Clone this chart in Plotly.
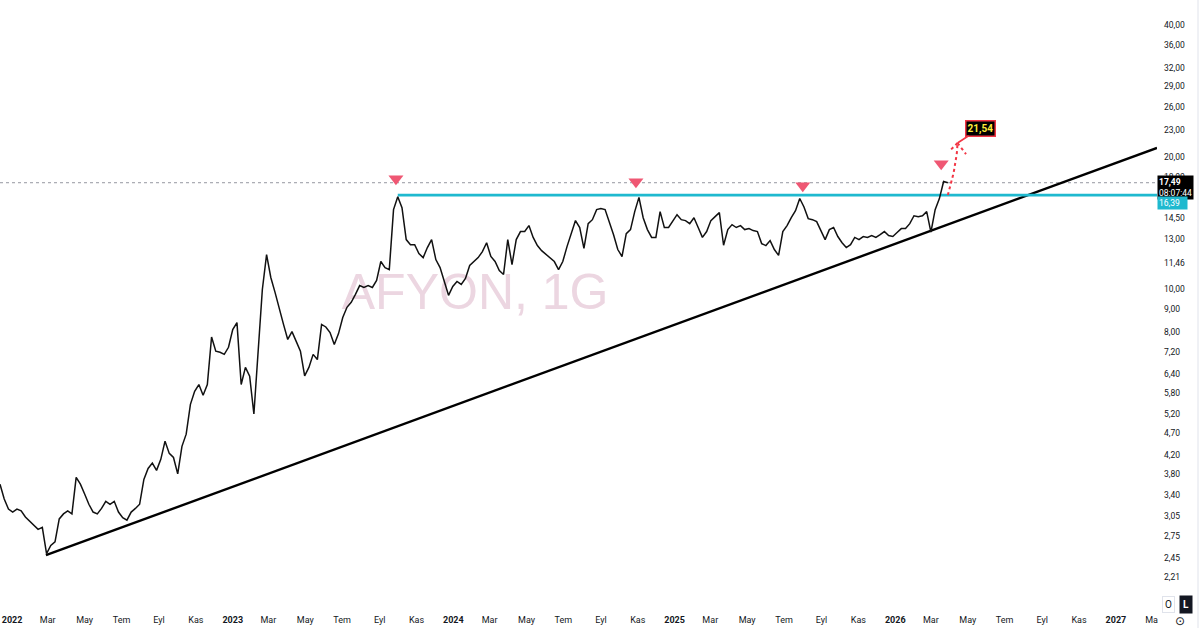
import numpy as np
import pandas as pd
import plotly.graph_objects as go

# ---------------- data ----------------
start_date = "2021-12-12"          # first weekly sample
close = [
    3.60, 3.33, 3.16, 3.11, 3.16, 3.13, 3.03, 2.97, 2.91, 2.84,
    2.87, 2.50, 2.61, 2.66, 3.00, 3.08, 3.13, 3.08, 3.73, 3.60,
    3.42, 3.24, 3.11, 3.08, 3.17, 3.29, 3.24, 3.29, 3.11, 3.02,
    2.98, 3.11, 3.17, 3.24, 3.69, 3.91, 4.02, 3.87, 4.10, 4.51,
    4.23, 4.14, 3.80, 4.39, 4.68, 5.47, 5.86, 6.07, 5.74, 6.07,
    7.79, 7.23, 7.19, 7.11, 7.38, 8.10, 8.40, 6.07, 6.64, 6.34,
    5.20, 7.30, 9.99, 12.00, 10.64, 9.84, 9.00, 8.32, 7.69, 8.01,
    7.61, 7.23, 6.35, 6.64, 7.11, 6.92, 8.32, 8.21, 7.97, 7.49,
    7.93, 8.63, 9.10, 9.34, 9.74, 10.20, 10.10, 10.20, 10.10, 10.48,
    11.57, 11.21, 11.09, 15.19, 16.25, 15.35, 12.98, 12.64, 12.64, 12.06,
    11.81, 12.45, 12.98, 11.69, 11.21, 10.48, 9.69, 10.15, 10.42, 10.26,
    10.59, 11.33, 11.57, 11.81, 12.19, 12.77, 11.88, 11.57, 11.03, 10.81,
    12.98, 11.39, 12.98, 13.54, 13.54, 13.97, 13.13, 12.58, 12.25, 12.00,
    11.81, 11.57, 11.09, 11.57, 12.51, 13.32, 14.34, 13.83, 12.40, 14.11,
    14.41, 15.19, 15.27, 15.19, 14.26, 13.32, 12.32, 11.88, 13.39, 13.68,
    15.03, 16.20, 14.56, 13.68, 13.13, 13.13, 15.03, 13.83, 13.83, 14.26,
    14.79, 14.41, 14.34, 14.11, 14.56, 13.83, 13.13, 13.54, 14.34, 14.64,
    14.95, 12.60, 13.68, 14.04, 13.83, 13.97, 13.68, 13.75, 13.61, 13.54,
    12.71, 12.58, 12.91, 12.32, 11.95, 13.54, 13.97, 14.56, 15.11, 16.10,
    15.40, 14.49, 14.41, 14.26, 13.54, 12.98, 13.68, 13.83, 13.19, 12.77,
    12.45, 12.64, 13.13, 12.98, 13.19, 13.13, 13.26, 13.13, 13.32, 13.54,
    13.26, 13.19, 13.47, 13.75, 13.75, 14.11, 14.71, 14.64, 14.71, 15.03,
    13.50, 15.19, 16.09, 17.60, 17.49,
]

trend_dates = ["2022-02-26", "2027-03-10"]
trend_prices = [2.48, 21.0]

resistance = 16.39
last_price = 17.49
last_time = "08:07:44"
target_price = 21.54

signal_dates = ["2023-09-28", "2024-10-29", "2025-08-01", "2026-03-18"]
signal_prices = [17.86, 17.58, 17.22, 19.32]

y_ticks = [2.21, 2.45, 2.75, 3.05, 3.40, 3.80, 4.20, 4.70, 5.20, 5.80, 6.40,
           7.20, 8.00, 9.00, 10.00, 11.46, 13.00, 14.50, 18.00, 20.00,
           23.00, 26.00, 29.00, 32.00, 36.00, 40.00, 45.00]

month_labels = {1: None, 3: "Mar", 5: "May", 7: "Tem", 9: "Eyl", 11: "Kas"}

x_range = ["2021-12-12", "2027-03-10"]
y_range = [1.961, 45.6]

# ---------------- helpers ----------------
PLOT_W, PLOT_H = 1157, 600
DAYS_PER_PX = 1.6543
LN_PER_PX = 1 / 190.7

dates = pd.date_range(start_date, periods=len(close), freq="7D")
last_date = dates[-1]


def shift(d, p, dx, dy):
    return (pd.Timestamp(d) + pd.Timedelta(days=dx * DAYS_PER_PX),
            p * np.exp(-dy * LN_PER_PX))


def comma(v):
    return f"{v:.2f}".replace(".", ",")


FONT = "Roboto, Liberation Sans, sans-serif"
TXT = "#131722"

fig = go.Figure()

# watermark (behind everything)
wm_d, wm_p = shift("2024-02-06", 9.86, 0, 4)
fig.add_trace(go.Scatter(x=[wm_d], y=[wm_p], mode="text", text=["AFYON, 1G"],
                         textfont=dict(size=50, color="#ecd6e1", family="Liberation Sans"),
                         textposition="middle center", hoverinfo="skip"))

# last price dotted line
fig.add_trace(go.Scatter(x=[x_range[0], x_range[1]], y=[last_price, last_price], mode="lines",
                         line=dict(color="#9598a1", width=1, dash="dot"), hoverinfo="skip"))

# trend line
fig.add_trace(go.Scatter(x=trend_dates, y=trend_prices, mode="lines",
                         line=dict(color="#000000", width=2.4), hoverinfo="skip"))

# resistance line
peak_date = dates[int(np.argmax(close[:120]))]
fig.add_trace(go.Scatter(x=[peak_date, x_range[1]], y=[resistance, resistance], mode="lines",
                         line=dict(color="#1fb9cf", width=2.6), hoverinfo="skip"))

# price series
fig.add_trace(go.Scatter(x=dates, y=close, mode="lines",
                         line=dict(color="#111111", width=1.5), hoverinfo="skip"))

# signal triangles
fig.add_trace(go.Scatter(x=signal_dates, y=signal_prices, mode="markers",
                         marker=dict(symbol="triangle-down", size=13, color="#ef5773"),
                         hoverinfo="skip"))

# projected dotted path to the target
target_date = last_date + pd.Timedelta(days=16)
t = np.linspace(0, 1, 14)
xf = 1 - (1 - t) ** 1.6
curve_x = [last_date + (target_date - last_date) * f for f in xf]
curve_y = np.exp(np.log(resistance) + t * (np.log(target_price) - np.log(resistance)))
fig.add_trace(go.Scatter(x=curve_x, y=curve_y, mode="lines",
                         line=dict(color="#f23645", width=2, dash="dot"), hoverinfo="skip"))
for dx, dy in [(-7.5, 7.5), (8.5, 11)]:
    ex, ey = shift(target_date, target_price, dx, dy)
    fig.add_trace(go.Scatter(x=[target_date, ex], y=[target_price, ey], mode="lines",
                             line=dict(color="#f23645", width=2, dash="dot"), hoverinfo="skip"))

# x ticks
tickvals, ticktext = [], []
for yr in range(2022, 2028):
    for m, lab in month_labels.items():
        d = pd.Timestamp(yr, m, 1)
        if d < pd.Timestamp(x_range[0]) or d > pd.Timestamp(x_range[1]):
            continue
        tickvals.append(d)
        if lab is None:
            ticktext.append(f"<b>{yr}</b>")
        else:
            ticktext.append("Ma" if (yr == 2027 and m == 3) else lab)

fig.update_layout(
    width=1200, height=628,
    margin=dict(l=0, r=1200 - PLOT_W, t=0, b=628 - PLOT_H),
    paper_bgcolor="white", plot_bgcolor="white",
    showlegend=False,
    font=dict(family=FONT, color=TXT, size=9),
    xaxis=dict(type="date", range=x_range, tickvals=tickvals, ticktext=ticktext,
               showgrid=False, zeroline=False, showline=False, ticks="",
               tickfont=dict(size=9, color=TXT, family=FONT), ticklabelstandoff=13),
    yaxis=dict(type="log", range=[np.log10(y_range[0]), np.log10(y_range[1])],
               side="right", tickvals=y_ticks, ticktext=[comma(v) for v in y_ticks],
               showgrid=False, zeroline=False, showline=False, ticks="",
               tickfont=dict(size=8.5, color=TXT, family=FONT), ticklabelstandoff=6),
)


def px(x):
    return x / PLOT_W


def py(y):
    return 1 - y / PLOT_H


annotations = [
    # target label
    dict(x=target_date, y=np.log10(target_price), xref="x", yref="y",
         text="<b>" + comma(target_price) + "</b>", showarrow=True, arrowhead=0,
         arrowcolor="#f23645", arrowwidth=1.6, ax=23, ay=-15,
         bgcolor="#000000", bordercolor="#f23645", borderwidth=1.5, borderpad=1,
         font=dict(color="#ffeb3b", size=10, family=FONT)),
    # last price tag
    dict(x=1.0, y=np.log10(last_price), xref="paper", yref="y", xanchor="left",
         yanchor="middle", yshift=-4.5, showarrow=False,
         text="<b>" + comma(last_price) + "</b><br>" + last_time,
         bgcolor="#000000", borderpad=1, align="left",
         font=dict(color="white", size=8.5, family=FONT)),
    # resistance tag
    dict(x=1.0, y=np.log10(resistance), xref="paper", yref="y", xanchor="left",
         yanchor="middle", yshift=-7.5, showarrow=False,
         text=comma(resistance) + "&nbsp;&nbsp;&nbsp;", bgcolor="#1fb9cf", borderpad=1,
         font=dict(color="white", size=8.5, family=FONT)),
    # bottom right controls
    dict(x=px(1168), y=py(604), xref="paper", yref="paper", showarrow=False,
         xanchor="center", yanchor="middle",
         text="O", font=dict(size=10, color=TXT, family=FONT),
         bgcolor="white", bordercolor="#e0e3eb", borderwidth=1, borderpad=2),
    dict(x=px(1186), y=py(604), xref="paper", yref="paper", showarrow=False,
         xanchor="center", yanchor="middle",
         text="<b>L</b>", font=dict(size=10, color="white", family=FONT),
         bgcolor="#131722", borderpad=3),
    dict(x=px(1180), y=py(621), xref="paper", yref="paper", showarrow=False,
         xanchor="center", yanchor="middle",
         text="⊙", font=dict(size=12, color=TXT, family="DejaVu Sans")),
]
fig.update_layout(annotations=annotations)

fig.add_shape(type="line", xref="paper", yref="paper", x0=px(1198), x1=px(1198),
              y0=py(628), y1=1, line=dict(color="#e0e3eb", width=1))

fig.write_html("out.html",
               config={"displayModeBar": False},
               post_script="document.body.style.margin='0px';"
                           "document.body.style.overflow='hidden';")
